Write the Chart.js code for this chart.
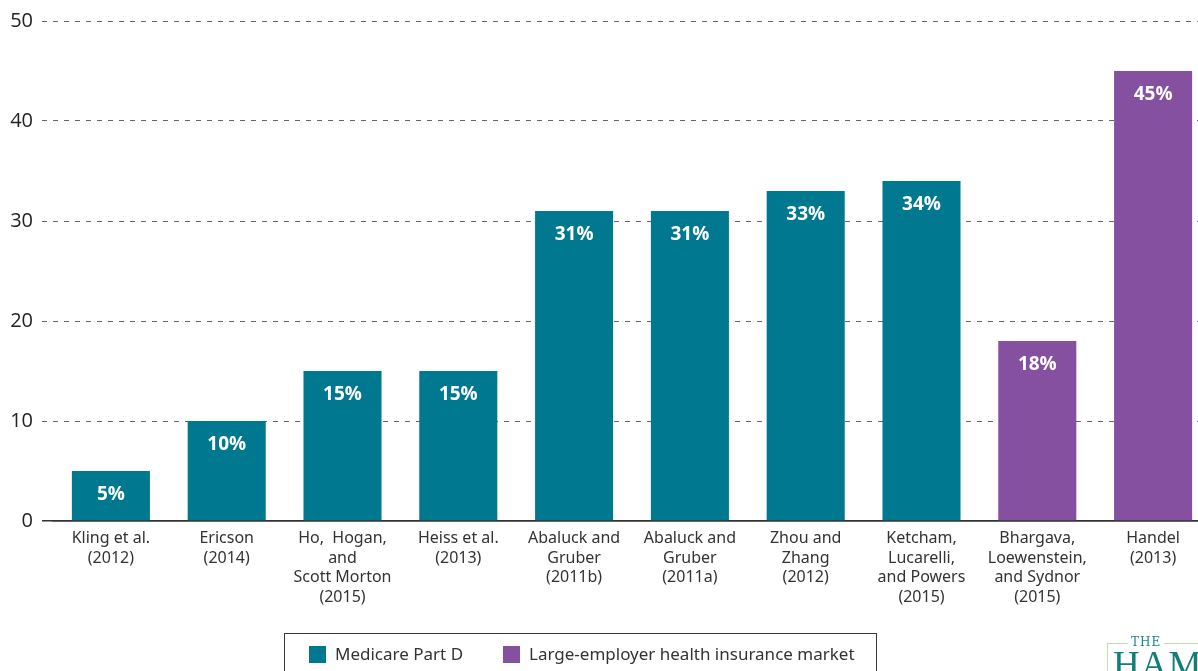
<!DOCTYPE html>
<html>
<head>
<meta charset="utf-8">
<script src="https://cdn.jsdelivr.net/npm/chart.js@4/dist/chart.umd.min.js"></script>
<style>
  html, body { margin: 0; padding: 0; background: #fff; overflow: hidden; }
  #wrap { position: relative; width: 1198px; height: 671px; overflow: hidden; }
  #myChart { position: absolute; left: 0; top: 0; }
  #legend {
    position: absolute; left: 284px; top: 633px; width: 593px; height: 60px;
    border: 1.5px solid #3a3a3a; box-sizing: border-box;
    font-family: "Noto Sans", "Open Sans", sans-serif; font-size: 17px; color: #333;
  }
  #legend .item { position: absolute; top: 10px; white-space: nowrap; line-height: 20px; }
  #legend .sw { display: inline-block; width: 17px; height: 17px; vertical-align: -3px; margin-right: 9px; }
  #logo { position: absolute; left: 1107px; top: 643px; width: 120px; height: 60px;
    border-left: 1.5px solid #c5dca8; border-top: 1.5px solid #c5dca8; }
  #logo .the { position: absolute; left: 20px; top: -9px; background: #fff; padding: 0 3px;
    font-family: "DejaVu Serif", "Liberation Serif", serif; font-size: 12px; letter-spacing: 1px; color: #1a8a84; line-height: 14px; }
  #logo .ham { position: absolute; left: 5px; top: 2px;
    font-family: "Liberation Serif", "DejaVu Serif", serif; font-size: 37px; letter-spacing: 1px; color: #0f7f78; line-height: 37px; }
</style>
</head>
<body>
<div id="wrap">
  <canvas id="myChart" width="1212" height="671"></canvas>
  <div id="legend">
    <div class="item" style="left:24px"><span class="sw" style="background:#00788f"></span>Medicare Part D</div>
    <div class="item" style="left:218px"><span class="sw" style="background:#8650a0"></span>Large-employer health insurance market</div>
  </div>
  <div id="logo"><span class="the">THE</span><span class="ham">HAM</span></div>
</div>
<script>
//資料
const studies = [
  ["Kling et al.", "(2012)"],
  ["Ericson", "(2014)"],
  ["Ho,  Hogan,", "and", "Scott Morton", "(2015)"],
  ["Heiss et al.", "(2013)"],
  ["Abaluck and", "Gruber", "(2011b)"],
  ["Abaluck and", "Gruber", "(2011a)"],
  ["Zhou and", "Zhang", "(2012)"],
  ["Ketcham,", "Lucarelli,", "and Powers", "(2015)"],
  ["Bhargava,", "Loewenstein,", "and Sydnor", "(2015)"],
  ["Handel", "(2013)"],
];
const shares = [5, 10, 15, 15, 31, 31, 33, 34, 18, 45];
const markets = ["D", "D", "D", "D", "D", "D", "D", "D", "E", "E"];
const yTicks = [0, 10, 20, 30, 40, 50];

const teal = "#00788f";
const purple = "#8650a0";

loadchart();
function loadchart() {
  //柱上的百分比
  const barLabels = {
    id: "barLabels",
    afterDatasetsDraw(chart) {
      const ctx = chart.ctx;
      const meta = chart.getDatasetMeta(0);
      ctx.save();
      ctx.fillStyle = "#fff";
      ctx.font = "bold 19px 'Open Sans', 'Noto Sans', sans-serif";
      ctx.textAlign = "center";
      ctx.textBaseline = "middle";
      meta.data.forEach((bar, i) => {
        ctx.fillText(shares[i] + "%", bar.x, bar.y + 24);
      });
      ctx.restore();
    },
  };

  const data = {
    labels: studies,
    datasets: [
      {
        data: shares,
        backgroundColor: markets.map((m) => (m === "D" ? teal : purple)),
        barPercentage: 0.674,
        categoryPercentage: 1,
      },
    ],
  };

  const config = {
    type: "bar",
    data: data,
    options: {
      responsive: false,
      animation: false,
      layout: { padding: { top: 19, right: 1, left: 0, bottom: 0 } },
      plugins: { legend: { display: false }, tooltip: { enabled: false } },
      scales: {
        x: {
          grid: { display: false, drawTicks: false },
          border: { display: true, color: "#333", width: 1.5 },
          ticks: {
            color: "#333",
            padding: 8,
            maxRotation: 0,
            autoSkip: false,
            font: { family: "'Noto Sans', 'Open Sans', sans-serif", size: 16, lineHeight: 1.22 },
          },
          afterFit(scale) {
            scale.height = 150;
          },
        },
        y: {
          min: 0,
          max: 50,
          afterBuildTicks(scale) {
            scale.ticks = yTicks.map((v) => ({ value: v }));
          },
          border: {
            display: false,
            dash: (c) => (c.tick && c.tick.value === 0 ? [] : [5, 6]),
          },
          grid: {
            color: (c) => (c.tick && c.tick.value === 0 ? "#333" : "#666"),
            lineWidth: (c) => (c.tick && c.tick.value === 0 ? 1.5 : 1),
            tickLength: 11,
            tickBorderDash: (c) => (c.tick && c.tick.value === 0 ? [] : [5, 6]),
          },
          ticks: {
            color: "#222",
            padding: 9,
            font: { family: "'Open Sans', 'Noto Sans', sans-serif", size: 20 },
          },
          afterFit(scale) {
            scale.width = 53;
          },
        },
      },
    },
    plugins: [barLabels],
  };
  const myChart = new Chart(document.getElementById("myChart"), config);
}
</script>
</body>
</html>
